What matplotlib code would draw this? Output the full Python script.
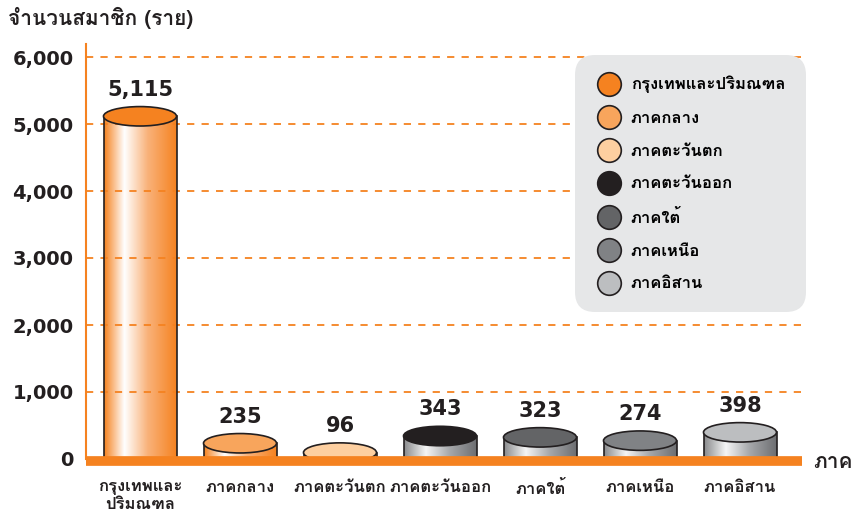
import matplotlib
matplotlib.use("Agg")
import matplotlib.pyplot as plt
import numpy as np
from matplotlib import font_manager
from matplotlib.ft2font import FT2Font
from matplotlib.patches import Ellipse
from matplotlib.lines import Line2D
from matplotlib.colors import LinearSegmentedColormap

regions = ["กรุงเทพและปริมณฑล", "ภาคกลาง", "ภาคตะวันตก", "ภาคตะวันออก",
           "ภาคใต้", "ภาคเหนือ", "ภาคอิสาน"]
tick_labels = ["กรุงเทพและ\nปริมณฑล", "ภาคกลาง", "ภาคตะวันตก", "ภาคตะวันออก",
               "ภาคใต้", "ภาคเหนือ", "ภาคอิสาน"]
members = [5115, 235, 96, 343, 323, 274, 398]

top_colors = ["#F58220", "#F8A55C", "#FDCFA0", "#231F20", "#636466", "#808285", "#BCBEC0"]
body_kind = ["orange", "orange", "orange", "gray", "gray", "gray", "gray"]


# find a font that has Thai glyphs
def thai_family():
    seen = set()
    for f in font_manager.fontManager.ttflist:
        if f.name in seen:
            continue
        seen.add(f.name)
        try:
            if 0x0E20 in FT2Font(f.fname).get_charmap():
                return f.name
        except Exception:
            pass
    return "DejaVu Sans"


THAI = thai_family()
FAM = [THAI, "DejaVu Sans"]
NUM = ["DejaVu Sans"]

orange_cmap = LinearSegmentedColormap.from_list(
    "og", [(0, "#F58220"), (0.28, "#FFFFFF"), (0.6, "#F9B27A"), (1, "#F58220")])
gray_cmap = LinearSegmentedColormap.from_list(
    "gr", [(0, "#8A8B8D"), (0.3, "#F5F5F5"), (0.62, "#A7A9AC"), (1, "#6D6E71")])

fig = plt.figure(figsize=(8.59, 5.14), dpi=100)
ax = fig.add_axes([86 / 859, 55 / 514, 719 / 859, 415.4 / 514])
ax.set_xlim(-0.54, 6.65)
ax.set_ylim(0, 6200)

w = 0.73
ell_h = 290
grad = np.linspace(0, 1, 256).reshape(1, -1)
for i, v in enumerate(members):
    cmap = orange_cmap if body_kind[i] == "orange" else gray_cmap
    ax.imshow(grad, cmap=cmap, aspect="auto", extent=(i - w / 2, i + w / 2, -60, v),
              zorder=2, interpolation="bilinear")
    ax.plot([i - w / 2, i - w / 2], [0, v], color="#231F20", lw=1.2, zorder=3)
    ax.plot([i + w / 2, i + w / 2], [0, v], color="#231F20", lw=1.2, zorder=3)
    ax.add_patch(Ellipse((i, v), w, ell_h, facecolor=top_colors[i],
                         edgecolor="#231F20", lw=1.2, zorder=5))
    ax.annotate(f"{v:,}", xy=(i, v + ell_h / 2), xytext=(0, 5),
                textcoords="offset points", ha="center", va="bottom",
                fontsize=15, fontweight="bold", color="#231F20", family=NUM)

# grid + axis styling
ax.set_yticks(range(0, 7000, 1000))
ax.set_yticklabels([f"{t:,}" for t in range(0, 7000, 1000)], fontsize=14,
                   fontweight="bold", color="#231F20", family=NUM)
ax.set_xticks(range(len(members)))
ax.set_xticklabels(tick_labels, fontsize=12, fontweight="bold", color="#231F20",
                   family=FAM, linespacing=1.15, va="top")
ax.tick_params(axis="y", length=0, pad=9)
ax.tick_params(axis="x", length=0, pad=15)
ax.yaxis.grid(True, color="#F58220", lw=1.3, linestyle=(0, (4, 4)), zorder=4)
ax.set_axisbelow(False)
for s in ["top", "right", "bottom"]:
    ax.spines[s].set_visible(False)
ax.spines["left"].set_color("#F58220")
ax.spines["left"].set_linewidth(1.5)
ax.plot([-0.54, 6.62], [-30, -30], color="#F58220", lw=7, solid_capstyle="butt",
        clip_on=False, zorder=6)

# legend
handles = [Line2D([], [], marker="o", linestyle="none", markersize=17,
                  markerfacecolor=c, markeredgecolor="#231F20", markeredgewidth=1.2)
           for c in top_colors]
leg = ax.legend(handles, regions, loc="upper left",
                bbox_to_anchor=(575 / 859, 1 - 55 / 514), bbox_transform=fig.transFigure,
                prop={"family": FAM, "weight": "bold", "size": 12},
                facecolor="#E6E7E8", edgecolor="none", framealpha=1, borderaxespad=0,
                borderpad=1.25, labelspacing=1.06, handletextpad=0.5, handlelength=1.6)
leg.get_frame().set_boxstyle("round,pad=0,rounding_size=1.2")
leg.set_zorder(10)

fig.text(8 / 859, 1 - 18 / 514, "จำนวนสมาชิก (ราย)", fontsize=15, fontweight="bold",
         color="#231F20", family=FAM, va="center", ha="left")
fig.text(813 / 859, 1 - 462 / 514, "ภาค", fontsize=15, fontweight="bold",
         color="#231F20", family=FAM, va="center", ha="left")

fig.savefig("out.png", dpi=100)
